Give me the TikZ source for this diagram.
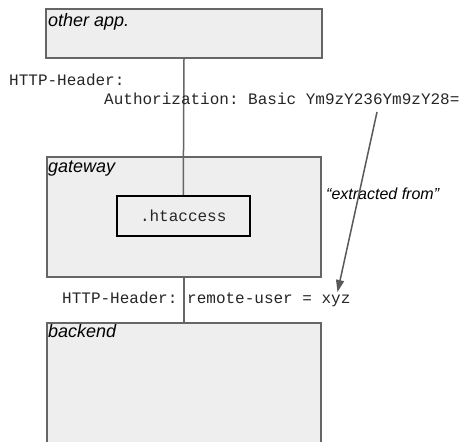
\documentclass[tikz,border=0pt]{standalone}
\usepackage{fontspec}
\setmainfont{Liberation Sans}
\setmonofont{Liberation Mono}
\usetikzlibrary{arrows.meta}
\definecolor{boxfill}{HTML}{EEEEEE}
\definecolor{boxline}{HTML}{666666}
\definecolor{arrowgray}{HTML}{595959}
\definecolor{monotext}{HTML}{262626}
\tikzset{
  sysbox/.style={draw=boxline, fill=boxfill, line width=1.6pt, inner sep=0pt},
  innerbox/.style={draw=black, fill=boxfill, line width=2pt, inner sep=0pt, text=monotext, font=\fontsize{16}{18}\selectfont\ttfamily},
  title/.style={anchor=base west, inner sep=0pt, font=\fontsize{18}{20}\selectfont\itshape},
  mono/.style={anchor=base west, inner sep=0pt, text=monotext, font=\fontsize{16}{18}\selectfont\ttfamily},
  note/.style={anchor=base west, inner sep=0pt, font=\fontsize{16}{18}\selectfont\itshape},
  conn/.style={draw=boxline, line width=1.5pt},
  extr/.style={draw=arrowgray, line width=1.5pt, -{Triangle[length=12pt,width=8pt]}}
}
\begin{document}
\begin{tikzpicture}[x=1pt,y=-1pt]
\clip (0,0) rectangle (462,441);
\fill[white] (0,0) rectangle (462,441);
% boxes
\node[sysbox, minimum width=276pt, minimum height=49pt] (other) at (184,33.5) {};
\node[sysbox, minimum width=274pt, minimum height=120pt] (gw) at (184,217) {};
\node[innerbox, minimum width=133.5pt, minimum height=40pt] (ht) at (183.25,216) {.htaccess};
\node[sysbox, minimum width=274pt, minimum height=140pt] (be) at (184,393) {};
% titles
\node[title] (tother) at (48,26.5) {other app.};
\node[title] (tgw) at (48,172.5) {gateway};
\node[title] (tbe) at (48,337.5) {backend};
% connectors
\draw[conn] (other.south) -- (ht.north);
\draw[conn] (gw.south) -- (be.north);
% texts
\node[mono] (h1) at (9,85) {HTTP-Header:};
\node[mono] (auth) at (104,104) {Authorization: Basic Ym9zY236Ym9zY28=};
\node[mono] (h2) at (62,303.3) {HTTP-Header:};
\node[mono] (ru) at (187,303.3) {remote-user = xyz};
\node[note] (ext) at (326,199.3) {“extracted from”};
% extraction arrow
\coordinate (from) at (377,112);
\coordinate (to) at (337.5,292);
\draw[extr] (from) -- (to);
\end{tikzpicture}
\end{document}
